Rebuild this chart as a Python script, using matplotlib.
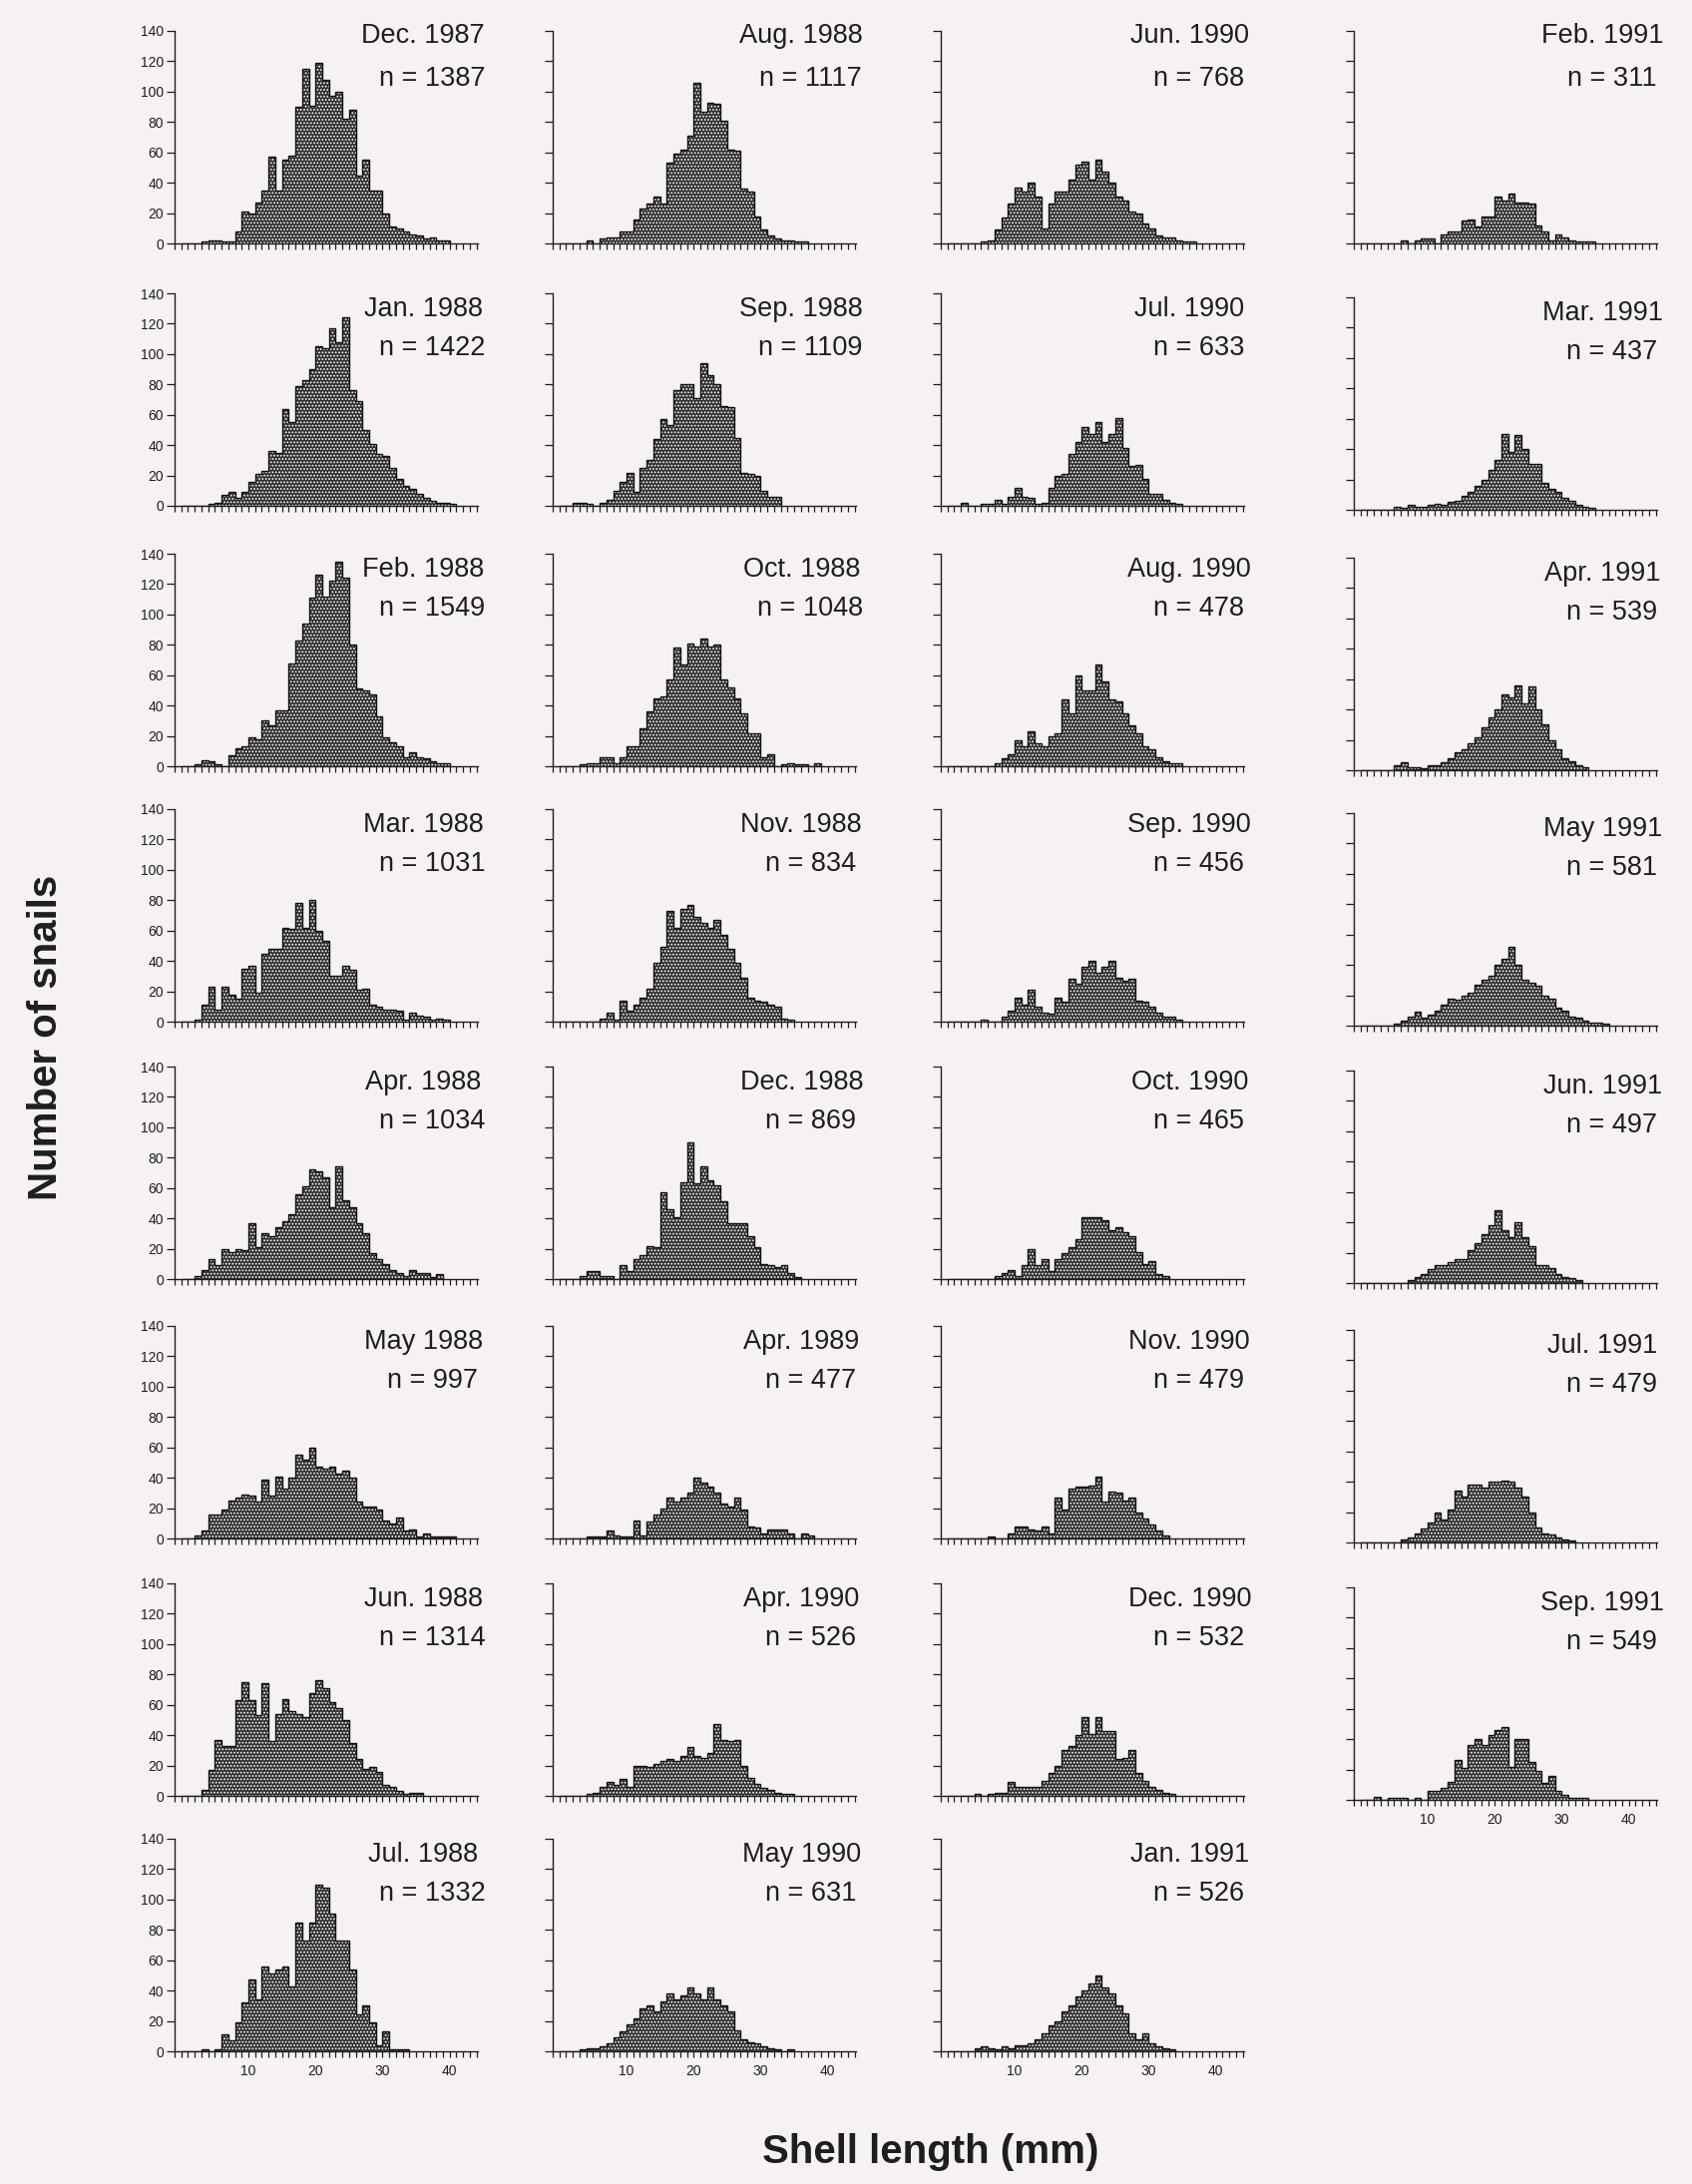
import numpy as np
import matplotlib
matplotlib.use("Agg")
import matplotlib.pyplot as plt
from matplotlib.ticker import MultipleLocator, FixedLocator

plt.rcParams['font.family'] = ['Liberation Sans', 'DejaVu Sans']
plt.rcParams['hatch.color'] = 'white'
plt.rcParams['hatch.linewidth'] = 0.85

# counts per 1 mm shell-length class, index = class (mm)
dec_1987 = [0,0,0,1,2,2,1,1,8,21,20,27,35,57,35,55,58,90,115,91,119,108,97,100,82,88,45,55,35,35,20,11,10,8,6,5,3,4,2,2]
jan_1988 = [0,0,0,0,1,2,7,9,5,9,16,21,23,36,35,64,55,79,83,90,105,104,117,108,124,76,69,50,41,34,33,25,18,13,11,8,5,3,2,2,1]
feb_1988 = [0,0,1,4,3,1,0,7,12,13,19,18,30,27,37,37,68,83,94,111,126,112,122,135,124,80,51,50,47,33,19,16,13,6,9,6,5,3,2,2]
mar_1988 = [0,0,1,11,23,8,23,18,15,35,37,19,45,48,48,62,61,78,62,80,60,53,30,30,37,34,21,22,11,10,8,8,7,1,6,4,3,1,2,1]
apr_1988 = [0,0,2,6,13,9,20,18,20,19,37,21,30,28,34,38,43,56,61,72,71,67,47,74,52,47,37,30,17,13,10,6,4,2,6,4,4,1,3]
may_1988 = [0,0,2,5,16,16,19,25,27,29,28,24,39,28,41,33,40,55,52,60,47,46,47,43,45,40,24,21,21,19,12,10,14,5,6,1,3,1,1,1,1]
jun_1988 = [0,0,0,4,17,37,33,33,63,75,63,53,74,36,54,64,56,54,52,68,76,71,62,58,50,35,24,18,19,16,7,6,3,1,2,2]
jul_1988 = [0,0,0,1,0,1,11,7,19,32,47,34,56,51,54,56,43,85,73,85,110,108,91,73,73,54,24,30,19,4,13,1,1,1]

aug_1988 = [0,0,0,0,2,0,3,4,4,8,8,16,23,26,31,26,53,59,62,71,106,87,93,92,81,62,61,36,34,18,9,5,3,2,2,1,1]
sep_1988 = [0,0,2,2,1,0,2,4,10,16,22,9,25,30,44,57,53,76,80,80,71,94,86,80,66,65,45,22,21,20,10,6,6]
oct_1988 = [0,0,0,1,2,2,6,6,2,6,13,13,25,36,45,46,57,78,67,81,79,84,79,80,57,52,45,35,22,22,6,8,0,1,2,1,1,0,2]
nov_1988 = [0,0,0,0,0,0,2,6,1,14,7,11,16,22,39,49,73,62,74,77,69,65,62,67,57,48,39,29,16,14,13,11,10,2,1]
dec_1988 = [0,0,0,2,5,5,2,2,0,9,5,13,16,22,21,57,46,41,64,90,63,74,65,62,51,37,37,37,28,21,10,9,8,9,4,1]
apr_1989 = [0,0,0,0,1,1,1,5,2,1,1,12,2,11,16,20,27,24,27,30,40,37,34,30,23,21,27,19,8,7,3,6,6,6,3,0,3,2]
apr_1990 = [0,0,0,0,1,2,6,9,7,11,6,20,20,19,21,23,24,23,26,32,26,25,28,47,37,36,37,20,12,8,5,4,2,1,1]
may_1990 = [0,0,0,1,2,2,3,5,9,13,18,22,28,30,26,33,38,34,37,42,38,34,42,34,30,26,14,8,6,5,3,2,1,0,1]

jun_1990 = [0,0,0,0,0,1,2,9,17,26,37,34,40,31,10,26,34,34,42,52,54,42,55,47,40,31,28,21,20,13,10,5,4,4,2,1,1]
jul_1990 = [0,0,2,0,0,1,1,4,1,6,12,6,5,1,2,12,20,21,34,42,52,47,55,42,47,58,38,26,27,18,8,8,4,2,1]
aug_1990 = [0,0,0,0,0,0,0,2,5,8,17,13,23,15,13,20,22,44,35,60,50,50,67,56,44,43,35,27,22,13,11,6,3,2,2]
sep_1990 = [0,0,0,0,0,1,0,0,3,7,16,11,21,10,6,5,16,13,28,25,36,40,32,36,40,29,27,28,14,13,10,6,3,3,1]
oct_1990 = [0,0,0,0,0,0,0,2,4,6,2,9,20,9,13,5,13,17,21,26,41,41,41,39,32,34,31,28,18,10,12,3,2]
nov_1990 = [0,0,0,0,0,0,1,0,0,3,8,8,6,5,8,3,27,19,33,34,34,35,41,24,31,30,25,27,17,13,9,5,2]
dec_1990 = [0,0,0,0,1,0,1,2,2,9,6,6,6,6,10,15,20,30,33,40,52,41,52,43,43,24,25,30,15,10,6,4,2,1]
jan_1991 = [0,0,0,0,2,3,2,1,3,2,4,4,5,8,12,17,20,26,30,36,40,45,50,42,38,30,25,12,8,12,5,3,2,1]

feb_1991 = [0,0,0,0,0,0,2,0,2,3,3,0,6,8,8,15,16,11,18,18,31,28,33,27,27,26,12,8,2,6,4,2,1,1,1]
mar_1991 = [0,0,0,0,0,2,1,3,2,2,3,4,3,5,6,9,12,16,20,26,33,50,38,49,40,30,30,18,14,12,8,6,3,2,1]
apr_1991 = [0,0,0,0,0,3,5,2,2,1,3,3,5,8,12,14,18,22,28,35,40,50,48,56,44,55,40,30,20,14,8,6,3,2]
may_1991 = [0,0,0,0,0,1,3,6,9,5,7,10,14,18,17,20,22,27,30,33,40,44,52,40,30,28,26,20,18,12,10,6,5,3,2,2,1]
jun_1991 = [0,0,0,0,0,0,0,2,4,6,9,12,12,14,16,16,22,26,32,38,48,35,30,40,30,24,12,12,10,6,4,3,2]
jul_1991 = [0,0,0,0,0,0,2,3,6,9,13,20,15,22,34,30,38,38,36,40,40,41,40,36,30,20,10,6,5,3,2,1]
sep_1991 = [0,0,2,0,1,1,1,0,1,0,6,6,8,12,26,21,36,40,36,43,46,48,22,40,40,25,19,11,16,6,3,1,1,1]

columns = [
    [("Dec. 1987", 1387, dec_1987), ("Jan. 1988", 1422, jan_1988),
     ("Feb. 1988", 1549, feb_1988), ("Mar. 1988", 1031, mar_1988),
     ("Apr. 1988", 1034, apr_1988), ("May 1988", 997, may_1988),
     ("Jun. 1988", 1314, jun_1988), ("Jul. 1988", 1332, jul_1988)],
    [("Aug. 1988", 1117, aug_1988), ("Sep. 1988", 1109, sep_1988),
     ("Oct. 1988", 1048, oct_1988), ("Nov. 1988", 834, nov_1988),
     ("Dec. 1988", 869, dec_1988), ("Apr. 1989", 477, apr_1989),
     ("Apr. 1990", 526, apr_1990), ("May 1990", 631, may_1990)],
    [("Jun. 1990", 768, jun_1990), ("Jul. 1990", 633, jul_1990),
     ("Aug. 1990", 478, aug_1990), ("Sep. 1990", 456, sep_1990),
     ("Oct. 1990", 465, oct_1990), ("Nov. 1990", 479, nov_1990),
     ("Dec. 1990", 532, dec_1990), ("Jan. 1991", 526, jan_1991)],
    [("Feb. 1991", 311, feb_1991), ("Mar. 1991", 437, mar_1991),
     ("Apr. 1991", 539, apr_1991), ("May 1991", 581, may_1991),
     ("Jun. 1991", 497, jun_1991), ("Jul. 1991", 479, jul_1991),
     ("Sep. 1991", 549, sep_1991)],
]

BG = '#f7f2f2'
INK = '#1e1e1e'
BAR = '#303030'

W, H = 1696, 2189
COL_LEFT = [175, 554, 943, 1357]
ROW_BASE = [244, 507, 768, 1024, 1282, 1542, 1800, 2056]
AX_W, AX_H = 304, 213

fig = plt.figure(figsize=(W / 100, H / 100), dpi=100, facecolor=BG)


def draw_panel(ax, label, n, counts, first_row, first_col, bottom):
    counts = np.asarray(counts, dtype=float)
    edges = np.arange(len(counts) + 1)
    ax.bar(edges[:-1], counts, width=1.0, align='edge', color=BAR,
           hatch='.....', linewidth=0)
    ax.stairs(counts, edges, baseline=0, color='#111111', linewidth=1.0)

    ax.set_facecolor('none')
    ax.set_xlim(-1, 44.2)
    ax.set_ylim(0, 140)
    for s in ['top', 'right']:
        ax.spines[s].set_visible(False)
    for s in ['left', 'bottom']:
        ax.spines[s].set_color(INK)
        ax.spines[s].set_linewidth(1.0)
    ax.xaxis.set_major_locator(FixedLocator([10, 20, 30, 40]))
    ax.xaxis.set_minor_locator(MultipleLocator(1))
    ax.set_yticks(np.arange(0, 141, 20))
    ax.tick_params(axis='x', which='both', direction='out', length=4,
                   width=0.9, color=INK, labelsize=10, labelcolor=INK,
                   pad=5, labelbottom=bottom)
    ax.tick_params(axis='y', direction='out', length=6, width=0.9,
                   color=INK, labelsize=10, labelcolor=INK, pad=2,
                   labelleft=first_col)

    # x in axes fraction, y in data units
    tr = ax.get_yaxis_transform()
    y1, y2 = (132, 104) if first_row else (125, 99)
    ax.text(0.82, y1, label, transform=tr, ha='center', va='baseline',
            fontsize=19.5, color=INK)
    ax.text(0.85, y2, f"n = {n}", transform=tr, ha='center',
            va='baseline', fontsize=19.5, color=INK)


for c, panels in enumerate(columns):
    for r, (label, n, counts) in enumerate(panels):
        base = ROW_BASE[r] + (4 if c == 3 and r > 0 else 0)
        rect = [COL_LEFT[c] / W, 1 - base / H, AX_W / W, AX_H / H]
        ax = fig.add_axes(rect)
        draw_panel(ax, label, n, counts, r == 0, c == 0,
                   r == len(panels) - 1)

fig.text(46 / W, 1 - 1040 / H, "Number of snails", rotation=90,
         ha='center', va='center', fontsize=29, fontweight='bold', color=INK)
fig.text(933 / W, 1 - 2157 / H, "Shell length (mm)", ha='center',
         va='center', fontsize=29, fontweight='bold', color=INK)

fig.savefig("out.png", dpi=100, facecolor=BG)
